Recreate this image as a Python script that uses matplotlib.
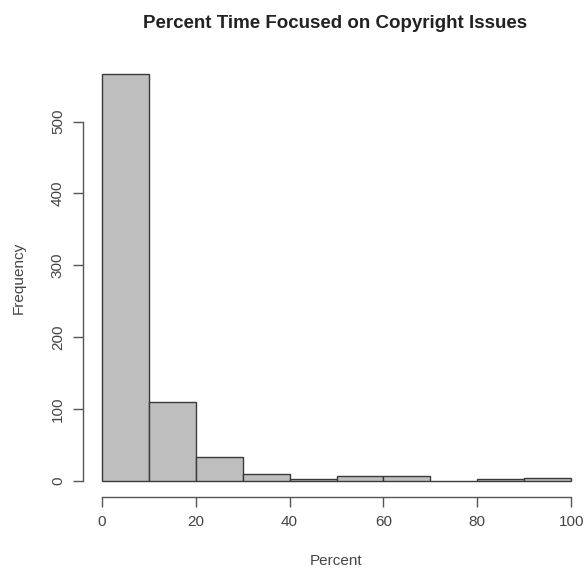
import numpy as np
import matplotlib
matplotlib.use('Agg')
import matplotlib.pyplot as plt

plt.rcParams['font.family'] = ['Liberation Sans', 'DejaVu Sans']

# bin edges and counts
edges = [0, 10, 20, 30, 40, 50, 60, 70, 80, 90, 100]
counts = [566, 109, 33, 10, 2, 6, 6, 0, 2, 4]
xticks = [0, 20, 40, 60, 80, 100]
yticks = [0, 100, 200, 300, 400, 500]

txt = '#444444'

fig = plt.figure(figsize=(5.87, 5.71), dpi=100)
ax = fig.add_axes([83/587, 74/571, 507/587, 439/571])

ax.bar(edges[:-1], counts, width=np.diff(edges), align='edge',
       color='#bebebe', edgecolor='#3a3a3a', linewidth=1.0)

ax.set_xlim(-4, 104)
ax.set_ylim(-0.04*566, 566*1.04)

for s in ['top', 'right']:
    ax.spines[s].set_visible(False)
ax.spines['left'].set_bounds(0, 500)
ax.spines['bottom'].set_bounds(0, 100)
for s in ['left', 'bottom']:
    ax.spines[s].set_color('#555555')
    ax.spines[s].set_linewidth(1.0)

ax.set_xticks(xticks)
ax.set_yticks(yticks)
ax.tick_params(direction='out', length=7, width=1.0, color='#555555',
               labelcolor=txt, labelsize=11, pad=6)
ax.set_yticklabels([str(v) for v in yticks], rotation=90, va='center')

ax.set_xlabel('Percent', color=txt, fontsize=11, labelpad=18)
ax.set_ylabel('Frequency', color=txt, fontsize=11, labelpad=18)
fig.text(335.5/587, 1 - 24/571, 'Percent Time Focused on Copyright Issues',
         ha='center', va='center', fontsize=13.5, fontweight='bold', color='#222222')

fig.savefig('out.png', dpi=100)
